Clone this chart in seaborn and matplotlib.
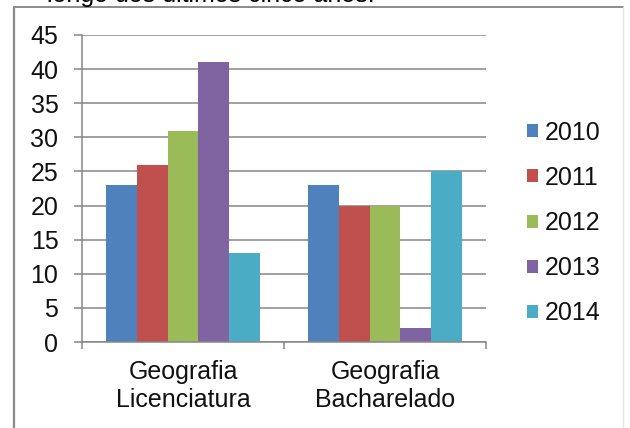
import matplotlib
matplotlib.use("Agg")
import matplotlib.pyplot as plt
from matplotlib.lines import Line2D
import seaborn as sns
import pandas as pd

# Enrolment counts per course and year
courses = ["Geografia\nLicenciatura", "Geografia\nBacharelado"]
years = ["2010", "2011", "2012", "2013", "2014"]
licenciatura = [23, 26, 31, 41, 13]
bacharelado = [23, 20, 20, 2, 25]
colors = ["#4F81BD", "#C0504D", "#9BBB59", "#8064A2", "#4BACC6"]
y_ticks = [0, 5, 10, 15, 20, 25, 30, 35, 40, 45]

rows = []
for course, values in zip(courses, [licenciatura, bacharelado]):
    for year, v in zip(years, values):
        rows.append({"curso": course, "ano": year, "valor": v})
df = pd.DataFrame(rows)

sns.set_style("white")
plt.rcParams["font.family"] = ["Liberation Sans", "DejaVu Sans"]

W, H, DPI = 630, 428, 100
FS = 18
fig = plt.figure(figsize=(W / DPI, H / DPI), dpi=DPI, facecolor="white")
ax = fig.add_axes([82 / W, 1 - 342 / H, 404 / W, 307 / H])

sns.barplot(data=df, x="curso", y="valor", hue="ano", hue_order=years,
            palette=colors, width=0.76, saturation=1, linewidth=0,
            ax=ax, zorder=3)

grid_c = "#868686"
ax.set_ylim(0, 45)
ax.set_xlim(-0.5, 1.5)
ax.set_yticks(y_ticks)
ax.yaxis.grid(True, color=grid_c, linewidth=1.1, zorder=0)
ax.set_axisbelow(True)
for s in ["top", "right"]:
    ax.spines[s].set_visible(False)
for s in ["left", "bottom"]:
    ax.spines[s].set_color(grid_c)
    ax.spines[s].set_linewidth(1.1)
    ax.spines[s].set_zorder(4)

ax.tick_params(axis="y", length=6, width=1.1, color=grid_c, pad=11,
               labelsize=FS, labelcolor="#111111", left=True)
ax.set_xticks([0, 1])
ax.set_xticklabels(courses, linespacing=1.2)
ax.tick_params(axis="x", which="major", length=0, pad=13,
               labelsize=FS, labelcolor="#111111")
ax.set_xticks([-0.5, 0.5, 1.5], minor=True)
ax.tick_params(axis="x", which="minor", length=5, width=1.1, color=grid_c,
               bottom=True)
ax.set_xlabel("")
ax.set_ylabel("")

leg = ax.legend(loc="center left", bbox_to_anchor=(527 / W, 1 - 223 / H),
                bbox_transform=fig.transFigure, frameon=False, fontsize=FS,
                handlelength=0.42, handleheight=0.42, handletextpad=0.3,
                labelspacing=0.85, borderaxespad=0, borderpad=0)
for t in leg.get_texts():
    t.set_color("#111111")

# Surrounding frame of the chart object
fig.add_artist(Line2D([13.5 / W, 13.5 / W], [0, 1 - 7 / H],
                      transform=fig.transFigure, color="#8a8a8a", lw=1.6))
fig.add_artist(Line2D([13.5 / W, 623 / W], [1 - 7 / H, 1 - 7 / H],
                      transform=fig.transFigure, color="#8a8a8a", lw=1.4))
fig.add_artist(Line2D([623 / W, 623 / W], [0, 1 - 7 / H],
                      transform=fig.transFigure, color="#e6e6e6", lw=1.0))

# Tail of the preceding paragraph above the chart
fig.text(47 / W, 1 - 2 / H, "longo dos últimos cinco anos.", fontsize=FS,
         color="black", ha="left", va="baseline")

fig.savefig("out.png", dpi=DPI, facecolor="white")
